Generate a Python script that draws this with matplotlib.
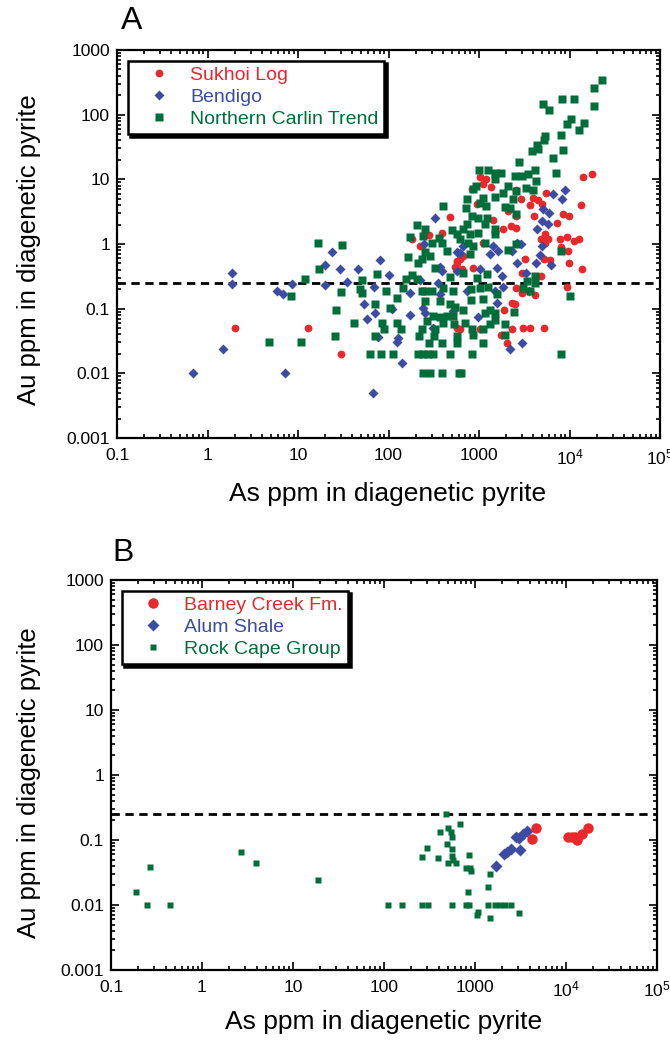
import matplotlib
matplotlib.use('Agg')
import numpy as np
import matplotlib.pyplot as plt
from matplotlib.ticker import FixedLocator, FixedFormatter, LogLocator, NullFormatter

plt.rcParams['font.family'] = ['Liberation Sans', 'DejaVu Sans']

RED = '#e8282b'
BLUE = '#3c4ca2'
GREEN = '#006e3b'

# ---- panel A: As vs Au (ppm) in diagenetic pyrite
sukhoi_as = [2.0, 12.8, 30, 478, 282, 387, 180, 223, 567, 567,
             14100, 17700, 1030, 1190, 830, 1360, 2550, 5460, 2910, 3980,
             4520, 4930, 3660, 13300, 944, 2110, 2560, 4050, 8540, 9860,
             7330, 1420, 2260, 2560, 1830, 5360, 7850, 9460, 11100, 12800,
             5360, 8050, 9550, 671,
             617, 1890, 2300, 2500, 2560, 2300, 2020, 1740, 2970, 1030, 865,
             3220, 5270, 6090, 9860, 13600, 4810, 9310, 4160, 2970, 3090,
             3660, 5270, 4810, 5830,
             571, 617, 543, 649, 1110, 1110]
sukhoi_au = [0.05, 0.05, 0.02, 2.6, 1.36, 1.5, 1.18, 0.93, 0.545, 0.05,
             11, 12.3, 10.7, 10.1, 7.0, 7.5, 6.8, 6.2, 4.9, 5.2,
             4.8, 4.1, 4.0, 4.0, 4.1, 3.25, 2.7, 2.7, 2.95, 2.7,
             2.14, 2.33, 1.9, 1.79, 1.69, 1.41, 1.18, 1.28, 1.11, 1.18,
             1.05, 0.91, 0.78, 0.65,
             0.048, 0.097, 0.123, 0.116, 0.21, 0.048, 0.0295, 0.039, 0.36, 0.048, 0.43,
             0.58, 0.58, 0.56, 0.51, 0.41, 0.32, 0.22, 0.16, 0.176, 0.05,
             0.05, 0.05, 1.18, 1.18,
             0.51, 0.58, 0.44, 0.41, 8.4, 1.05]

bendigo_as = [1.85, 1.85, 1.5, 0.69, 5.8, 6.8, 8.6, 7.1, 20, 20,
              24, 29, 35, 46, 53, 58, 69, 71, 77, 81,
              67, 102, 108, 123,
              329, 247, 371, 387, 567, 576, 350, 371, 173, 223,
              239, 253, 173, 313, 128, 142, 520,
              8990, 6620, 8320, 5130, 5930, 4970, 5740, 4340, 2610, 4930,
              4720, 1440, 1320, 1630, 2300, 617, 671,
              982, 1570, 1500, 1780, 1860, 2200, 3010, 743, 1026, 1570, 2610,
              3300, 6250, 4260, 3600, 2910]
bendigo_au = [0.35, 0.24, 0.024, 0.01, 0.19, 0.17, 0.24, 0.01, 0.47, 0.23,
              0.74, 0.41, 0.26, 0.41, 0.12, 0.07, 0.22, 0.086, 0.037, 0.56,
              0.005, 0.33, 0.10, 0.031,
              2.56, 1.0, 0.44, 0.38, 0.38, 0.75, 0.25, 0.166, 0.176, 0.28,
              0.103, 0.086, 0.081, 0.05, 0.035, 0.0144, 0.091,
              6.8, 5.9, 4.9, 3.45, 3.06, 2.27, 2.02, 1.69, 1.05, 0.93,
              0.67, 0.93, 0.69, 0.78, 0.78, 0.73, 0.93,
              0.074, 0.123, 0.187, 0.32, 0.215, 0.024, 0.0295, 0.187, 0.41, 0.43, 0.51,
              0.36, 0.48, 0.51, 0.19, 1.0]

carlin_as = [16.8, 31, 17.2, 12, 8.4, 4.8, 10.9, 26.5, 30, 25.8,
             42, 51, 49, 51, 75, 71, 95, 105, 85, 90,
             71, 63, 83, 113, 125, 125, 138,
             403, 208, 255, 174, 242, 364, 499, 567, 305, 387,
             440, 253, 290, 233, 213, 326, 166, 183, 156, 205,
             233, 253, 305, 403, 520, 478, 146, 255, 371, 478,
             543, 313, 371, 440, 520, 264, 403, 530, 233, 324,
             219, 320, 567, 282, 393, 567, 213, 242, 275, 313,
             482, 242, 288, 393, 606,
             22900, 18800, 18800, 8320, 11200, 5130, 5980, 10400, 9310, 14600,
             12600, 8110, 5360, 5220, 4340, 4520, 3820, 8470, 6620, 2790,
             7100, 1010, 1270, 1500, 1750, 1500, 2500, 2970, 3450, 4160,
             4260,
             926, 865, 1110, 731, 718, 1026, 1190, 1500, 2110, 2560,
             3280, 3920, 1860, 1940, 2390, 2200, 2560, 830, 982, 1220,
             731, 1160, 1500, 1500, 671, 796, 982, 617, 762, 851,
             1160, 2110, 2560, 8110, 796,
             671, 944, 1240, 809, 1026, 1270, 1570, 1110, 809, 671,
             1320, 1500, 1160, 1500, 1320, 700, 830, 1110, 865, 1110,
             1940, 1940, 2450, 844, 633,
             4160, 3420, 4160, 3040, 3660, 10200, 8110]
carlin_au = [1.03, 0.95, 0.41, 0.29, 0.155, 0.03, 0.03, 0.097, 0.18, 0.038,
             0.059, 0.28, 0.2, 0.176, 0.34, 0.116, 0.187, 0.104, 0.059, 0.048,
             0.038, 0.02, 0.02, 0.02, 0.144, 0.059, 0.048,
             3.84, 1.95, 1.69, 1.27, 1.33, 1.25, 1.63, 1.41, 1.03, 1.05,
             0.78, 0.75, 0.65, 0.58, 0.5, 0.42, 0.62, 0.33, 0.29, 0.29,
             0.19, 0.187, 0.19, 0.206, 0.187, 0.31, 0.206, 0.13, 0.13, 0.116,
             0.105, 0.0765, 0.074, 0.0765, 0.0765, 0.064, 0.06, 0.058, 0.049, 0.048,
             0.038, 0.038, 0.038, 0.029, 0.029, 0.029, 0.02, 0.02, 0.02, 0.02,
             0.02, 0.01, 0.01, 0.01, 0.01,
             345, 260, 138, 175, 175, 147, 118, 86, 72, 74,
             58, 48, 47, 40, 34, 29, 27, 28, 21, 18.7,
             12.5, 13.9, 13.9, 12.7, 12.7, 10.1, 11.3, 11.3, 12, 13.9,
             9.5,
             7.9, 7.0, 5.2, 4.9, 3.65, 4.37, 3.88, 5.35, 7.9, 6.6,
             7.3, 6.8, 6.2, 3.75, 4.9, 3.65, 2.89, 2.72, 2.56, 2.56,
             2.02, 2.02, 1.69, 1.41, 1.69, 1.41, 1.5, 1.18, 1.05, 0.93,
             1.05, 0.8, 1.0, 0.78, 0.69,
             0.36, 0.3, 0.34, 0.2, 0.21, 0.215, 0.166, 0.139, 0.134, 0.097,
             0.097, 0.086, 0.086, 0.066, 0.058, 0.06, 0.048, 0.048, 0.039, 0.0295,
             0.058, 0.039, 0.088, 0.02, 0.01,
             0.32, 0.27, 0.25, 0.206, 0.187, 0.155, 0.02]

# ---- panel B
rockcape_as = [0.19, 0.25, 0.27, 0.44, 2.7, 3.9, 18.8,
               112, 159, 264, 302,
               476, 509, 690, 416, 545, 563, 497, 299, 556, 264,
               392, 556, 568, 867, 509, 613, 796, 881, 904, 845,
               1474, 1401, 556, 796, 867, 1401, 1659, 1882, 2137, 2488,
               1088, 1052, 1474, 3020]
rockcape_au = [0.0157, 0.01, 0.038, 0.01, 0.065, 0.045, 0.024,
               0.01, 0.01, 0.01, 0.01,
               0.254, 0.155, 0.178, 0.134, 0.134, 0.112, 0.086, 0.076, 0.072, 0.055,
               0.053, 0.057, 0.05, 0.058, 0.045, 0.045, 0.037, 0.037, 0.033, 0.016,
               0.03, 0.019, 0.01, 0.01, 0.01, 0.01, 0.01, 0.01, 0.01, 0.01,
               0.0079, 0.0069, 0.0064, 0.0076]
alum_as = [1715, 2100, 2230, 2465, 3123, 2820, 3070, 3400, 3700]
alum_au = [0.040, 0.060, 0.065, 0.072, 0.070, 0.112, 0.108, 0.122, 0.137]
barney_as = [4640, 4230, 10420, 11530, 13100, 15000, 17300, 12400]
barney_au = [0.155, 0.102, 0.112, 0.112, 0.100, 0.122, 0.155, 0.11]

threshold_au = 0.25

x_ticks = [0.1, 1, 10, 100, 1000, 1e4, 1e5]
x_labels = ['0.1', '1', '10', '100', '1000', r'$\mathregular{10^4}$', r'$\mathregular{10^5}$']
y_ticks = [0.001, 0.01, 0.1, 1, 10, 100, 1000]
y_labels = ['0.001', '0.01', '0.1', '1', '10', '100', '1000']

W, H = 670, 1040
fig = plt.figure(figsize=(W / 100, H / 100), dpi=100)


def style_axes(ax):
    ax.set_xscale('log')
    ax.set_yscale('log')
    ax.set_xlim(0.1, 1e5)
    ax.set_ylim(0.001, 1000)
    ax.xaxis.set_major_locator(FixedLocator(x_ticks))
    ax.xaxis.set_major_formatter(FixedFormatter(x_labels))
    ax.yaxis.set_major_locator(FixedLocator(y_ticks))
    ax.yaxis.set_major_formatter(FixedFormatter(y_labels))
    for axis in (ax.xaxis, ax.yaxis):
        axis.set_minor_locator(LogLocator(base=10, subs=np.arange(2, 10), numticks=100))
        axis.set_minor_formatter(NullFormatter())
    ax.tick_params(which='both', direction='in', top=True, right=True, width=1.2)
    ax.tick_params(which='major', length=6, labelsize=12.5)
    ax.tick_params(axis='x', which='major', pad=7)
    ax.tick_params(axis='y', which='major', pad=5)
    ax.tick_params(which='minor', length=3)
    for sp in ax.spines.values():
        sp.set_linewidth(1.6)
    ax.axhline(threshold_au, color='black', lw=2, ls=(0, (3, 2)), zorder=1)


def add_legend(ax):
    leg = ax.legend(loc='upper left', fancybox=False, framealpha=1, edgecolor='black',
                    shadow={'color': 'black', 'alpha': 1}, fontsize=14,
                    handlelength=2.6, handletextpad=0.3, borderpad=0.3,
                    labelspacing=0.22, borderaxespad=0.55, labelcolor='markerfacecolor')
    leg.get_frame().set_linewidth(1.8)
    return leg


# panel A
axA = fig.add_axes([117 / W, 1 - 438 / H, 543 / W, 388 / H])
style_axes(axA)
axA.plot(sukhoi_as, sukhoi_au, 'o', ms=5.6, color=RED, mec='none', label='Sukhoi Log', zorder=3)
axA.plot(bendigo_as, bendigo_au, 'D', ms=4.8, color=BLUE, mec='none', label='Bendigo', zorder=3)
axA.plot(carlin_as, carlin_au, 's', ms=5.4, color=GREEN, mec='none', label='Northern Carlin Trend', zorder=3)
add_legend(axA)

# panel B
axB = fig.add_axes([111 / W, 1 - 970 / H, 546 / W, 390 / H])
style_axes(axB)
axB.plot(rockcape_as, rockcape_au, 's', ms=4.8, color=GREEN, mec='none', zorder=3)
axB.plot(alum_as, alum_au, 'D', ms=5.8, color=BLUE, mec='none', zorder=3)
axB.plot(barney_as, barney_au, 'o', ms=7.5, color=RED, mec='none', zorder=3)
# legend entries in the original order
hB = [axB.plot([], [], 'o', ms=7.5, color=RED, mec='none', label='Barney Creek Fm.')[0],
      axB.plot([], [], 'D', ms=5.8, color=BLUE, mec='none', label='Alum Shale')[0],
      axB.plot([], [], 's', ms=4.8, color=GREEN, mec='none', label='Rock Cape Group')[0]]
add_legend(axB)

# axis titles and panel letters
fig.text(388 / W, 1 - 494 / H, 'As ppm in diagenetic pyrite', ha='center', va='center', fontsize=19)
fig.text(384 / W, 1 - 1022 / H, 'As ppm in diagenetic pyrite', ha='center', va='center', fontsize=19)
fig.text(29 / W, 1 - 250 / H, 'Au ppm in diagenetic pyrite', ha='center', va='center',
         rotation=90, fontsize=18.5)
fig.text(29 / W, 1 - 783 / H, 'Au ppm in diagenetic pyrite', ha='center', va='center',
         rotation=90, fontsize=18.5)
fig.text(121 / W, 1 - 21 / H, 'A', ha='left', va='center', fontsize=23)
fig.text(112 / W, 1 - 553 / H, 'B', ha='left', va='center', fontsize=23)

fig.savefig('out.png', dpi=100)
